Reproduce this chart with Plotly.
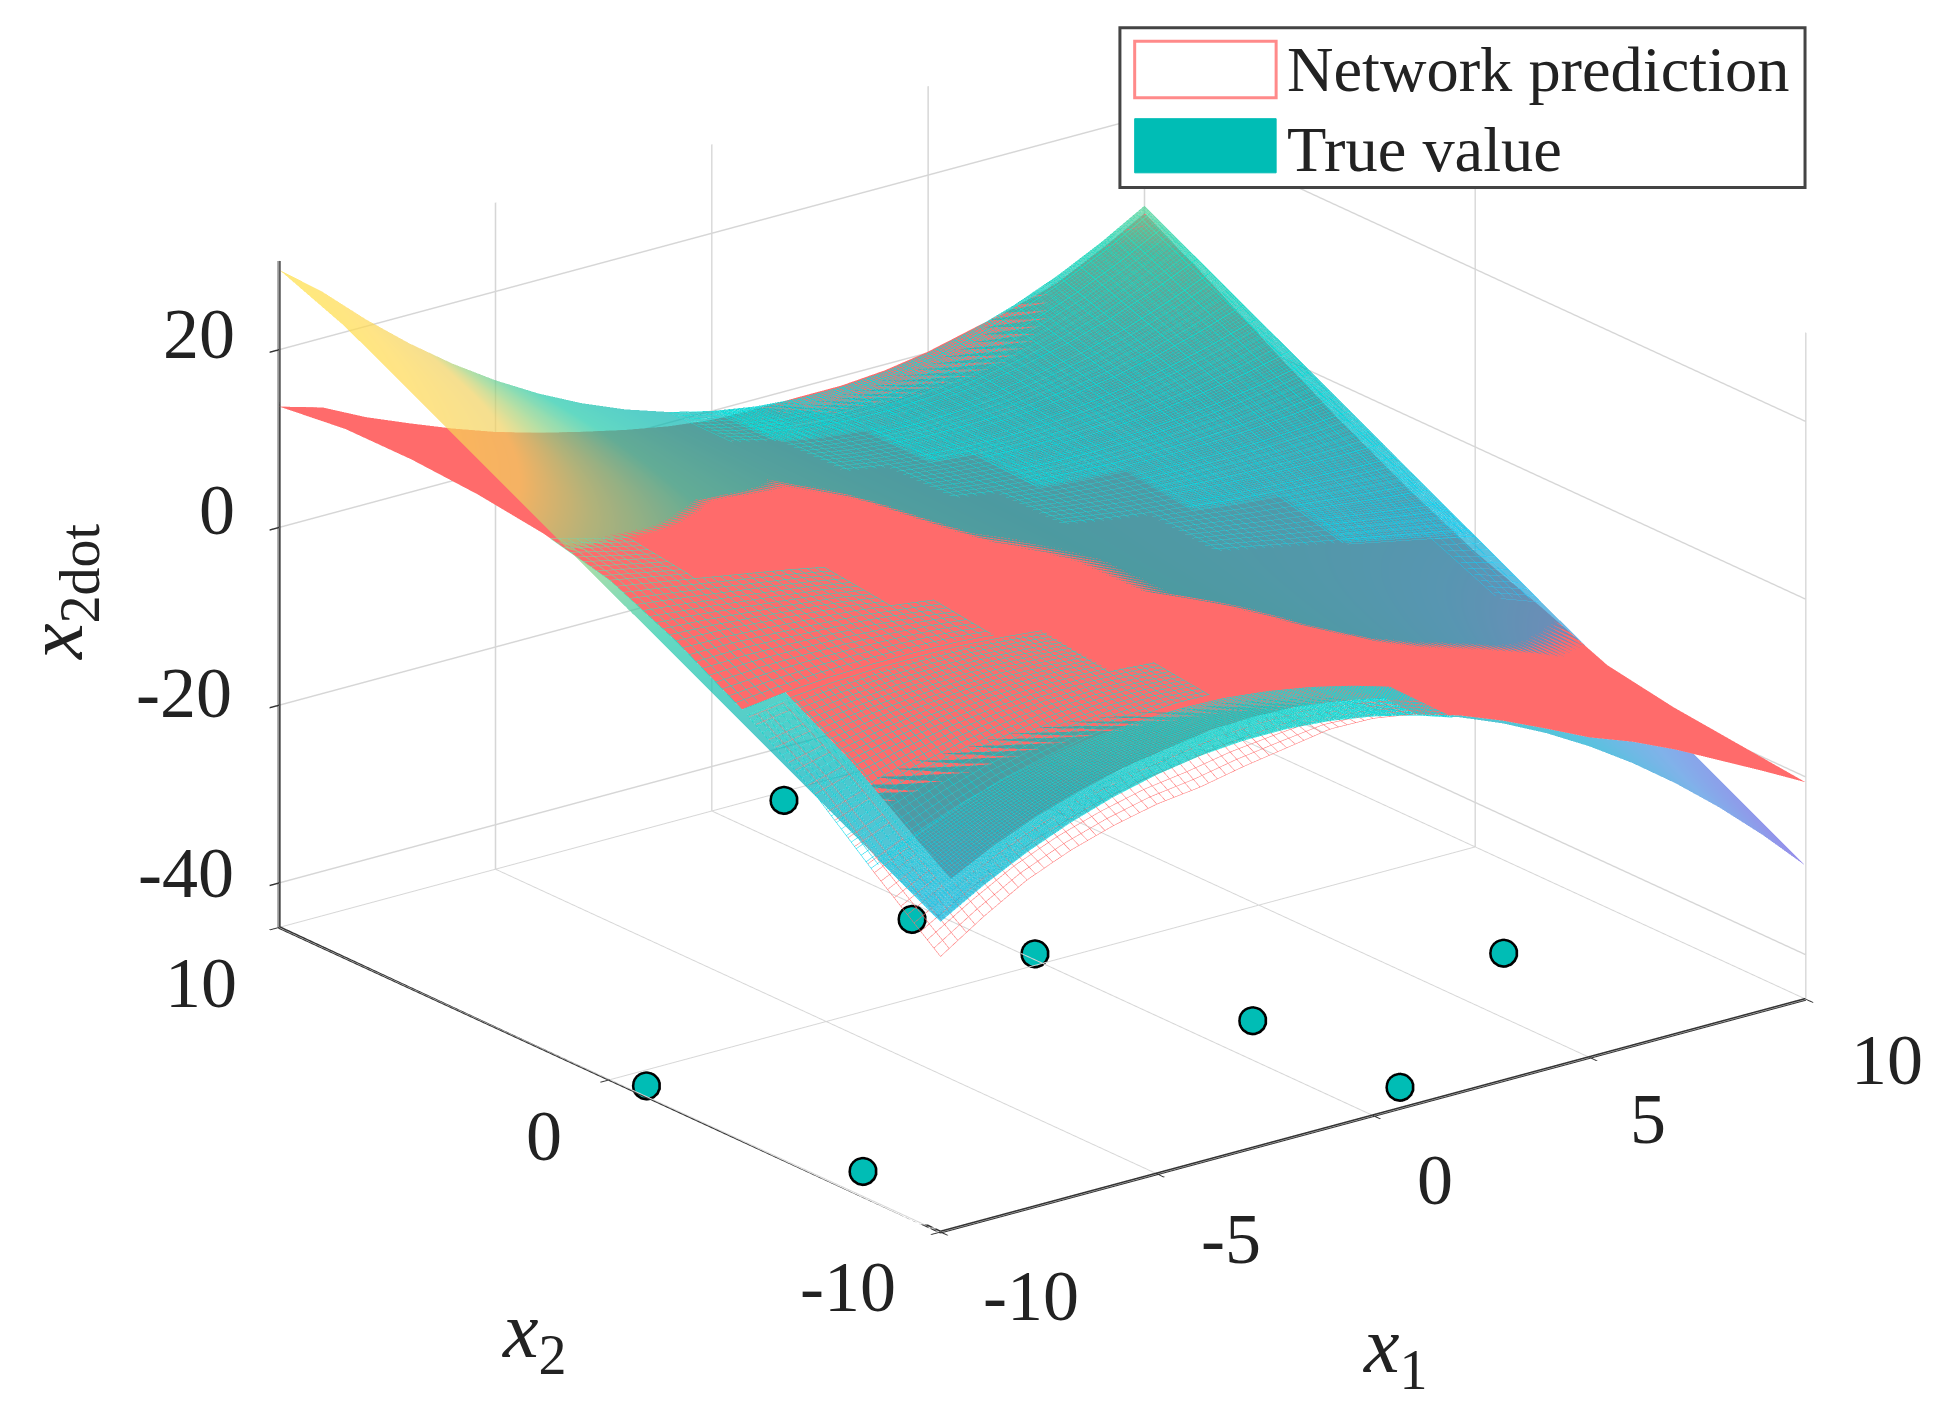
import plotly.graph_objects as go

##### values
x1_vals = [-10, -9, -8, -7, -6, -5, -4, -3, -2, -1, 0, 1, 2, 3, 4, 5, 6, 7, 8, 9, 10]
x2_vals = [-10, -9, -8, -6, -4, -2, 0, 2, 4, 6, 8, 10]

# rows follow x2_vals, columns follow x1_vals
true_z = [
    [-10, -7.2, -4.8, -2.8, -1.2, 0, 0.8, 1.2, 1.2, 0.8, 0, -1.2, -2.8, -4.8, -7.2, -10, -13.2, -16.8, -20.8, -25.2, -30],
    [-8, -5.58, -3.52, -1.82, -0.48, 0.5, 1.12, 1.38, 1.28, 0.82, 0, -1.18, -2.72, -4.62, -6.88, -9.5, -12.48, -15.82, -19.52, -23.58, -28],
    [-6, -3.96, -2.2, -0.84, 0.2, 1, 1.4, 1.56, 1.4, 0.84, 0, -1.16, -2.6, -4.44, -6.6, -9, -11.8, -14.84, -18.2, -21.96, -26],
    [-2, -0.72, 0.3, 1.12, 1.7, 2, 2.1, 1.92, 1.5, 0.88, 0, -1.12, -2.5, -4.08, -5.9, -8, -10.3, -12.88, -15.7, -18.72, -22],
    [2, 2.52, 2.9, 3.08, 3.1, 3, 2.7, 2.28, 1.7, 0.92, 0, -1.08, -2.3, -3.72, -5.3, -7, -8.9, -10.92, -13.1, -15.48, -18],
    [6, 5.76, 5.4, 5.04, 4.6, 4, 3.4, 2.64, 1.8, 0.96, 0, -1.04, -2.2, -3.36, -4.6, -6, -7.4, -8.96, -10.6, -12.24, -14],
    [10, 9, 8, 7, 6, 5, 4, 3, 2, 1, 0, -1, -2, -3, -4, -5, -6, -7, -8, -9, -10],
    [14, 12.24, 10.6, 8.96, 7.4, 6, 4.6, 3.36, 2.2, 1.04, 0, -0.96, -1.8, -2.64, -3.4, -4, -4.6, -5.04, -5.4, -5.76, -6],
    [18, 15.48, 13.1, 10.92, 8.9, 7, 5.3, 3.72, 2.3, 1.08, 0, -0.92, -1.7, -2.28, -2.7, -3, -3.1, -3.08, -2.9, -2.52, -2],
    [22, 18.72, 15.7, 12.88, 10.3, 8, 5.9, 4.08, 2.5, 1.12, 0, -0.88, -1.5, -1.92, -2.1, -2, -1.7, -1.12, -0.3, 0.72, 2],
    [26, 21.96, 18.2, 14.84, 11.8, 9, 6.6, 4.44, 2.6, 1.16, 0, -0.84, -1.4, -1.56, -1.4, -1, -0.2, 0.84, 2.2, 3.96, 6],
    [29, 25.2, 20.8, 16.8, 13.2, 10, 7.2, 4.8, 2.8, 1.2, 0, -0.8, -1.2, -1.2, -0.8, 0, 1.2, 2.8, 4.8, 7.2, 10],
]
# prediction minus true value, same layout
pred_gap = [
    [-4, -3.6, -3.2, -3.2, -3.3, -3.4, -3.6, -3, -2.2, -1, -0.3, 0.1, 0.2, 0.3, 0.5, 1, 2.4, 3.8, 5.3, 7.2, 9.4],
    [-3, -2.7, -2.3, -2, -1.8, -1.5, -1.3, -0.8, -0.5, -0.2, -0.1, 0.2, 0.3, 0.5, 0.7, 1.1, 2.2, 3, 4.5, 5.8, 7.8],
    [-2, -1.7, -1.4, -1, -0.8, -0.5, -0.2, 0.1, 0.2, 0.2, 0.2, 0.3, 0.4, 0.6, 0.9, 1.3, 2, 2.8, 3.7, 4.8, 6.2],
    [0.4, 0.5, 0.6, 0.7, 0.8, 0.9, 0.9, 0.9, 0.9, 0.9, 0.8, 0.8, 0.8, 0.7, 0.5, 0.5, 0.7, 1, 1.6, 2.2, 3],
    [1.5, 1.6, 1.6, 1.6, 1.6, 1.6, 1.5, 1.4, 1.3, 1.2, 1.2, 0.8, 0.3, -0.2, -0.5, -0.5, -0.4, -0.3, -0.2, 0, 0.3],
    [1.8, 1.9, 1.9, 1.9, 1.9, 1.8, 1.7, 1.5, 1.2, 0.9, 0.4, -0.1, -0.4, -0.7, -0.9, -0.9, -0.9, -0.9, -0.9, -0.8, -0.6],
    [1.2, 1.3, 1.4, 1.5, 1.6, 1.6, 1.5, 1.3, 1, 0.7, 0.3, -0.1, -0.4, -0.6, -0.8, -1, -1.2, -1.4, -1.6, -1.7, -1.8],
    [-1, -0.6, -0.2, 0.2, 0.6, 0.9, 1, 1, 0.8, 0.4, -0.2, -0.4, -0.5, -0.7, -0.8, -1, -1.2, -1.4, -1.6, -1.9, -2.2],
    [-4, -3.2, -2.5, -1.6, -0.8, -0.2, 0.2, 0.4, 0.4, 0.1, -0.6, -0.7, -0.7, -0.9, -1, -1.2, -1.4, -1.6, -1.8, -2, -2.2],
    [-7.5, -6.2, -5, -4, -3, -2.1, -1.4, -0.8, -0.3, -0.5, -0.9, -0.9, -0.9, -1, -1, -1.2, -1.4, -1.5, -1.6, -1.7, -1.8],
    [-11.5, -9.8, -8, -6.5, -5, -3.8, -2.8, -1.8, -1, -0.9, -1, -0.9, -0.9, -0.9, -0.9, -0.9, -1, -1.1, -1.2, -1.2, -1.2],
    [-15.4, -13, -11, -9, -7.3, -5.8, -4.4, -3.2, -2.3, -1.6, -1, -0.3, 0.15, 0.15, 0.15, 0.15, 0.15, -0.3, -0.8, -0.8, -0.8],
]
pred_z = [[t + g for t, g in zip(trow, grow)] for trow, grow in zip(true_z, pred_gap)]

# which parts of each surface are drawn (1 = drawn)
solid_red = [
    '000000000001111111111',
    '011111111111111111111',
    '011111111111111111111',
    '011111111111111111111',
    '111111111111111111111',
    '111111111111111111111',
    '111111111111111111111',
    '111111111111111111111',
    '111111111111111111111',
    '111111111111111111111',
    '111111111111111111111',
    '111111111111111111111',
]
bare_mesh = [
    '111111111111100000000',
    '111111111111100000000',
    '110000000000000000000',
    '110000000000000000000',
    '110000000000000000000',
    '000000000000000000000',
    '000000000000000000000',
    '000000000000000000000',
    '000000000000000000000',
    '000000000000000000000',
    '000000000000000000000',
    '000000000000000000000',
]
speckle_red_sparse = [
    '000000000000000000000',
    '000000000000000000000',
    '000000000000000000000',
    '000000000000000000000',
    '111111110000000000000',
    '111111100000000000000',
    '111111000000000000000',
    '111000000000000000000',
    '000000000000000000000',
    '000000000000000000000',
    '000000000000000000000',
    '000000000000000000000',
]
speckle_red_dense = [
    '000000000000000000000',
    '000000000000000000000',
    '111111111111100000000',
    '111111111000000000000',
    '111111110000000000000',
    '000000000000000000000',
    '000000000000000000000',
    '000000000000000000000',
    '000000000000000000000',
    '000000000000000000000',
    '000000000000000000000',
    '000000000000000000000',
]
speckle_true_sparse = [
    '000000000000000000000',
    '000000000000000000000',
    '000000000000000000000',
    '000000000000000000000',
    '000000000000000000000',
    '000000000000000000011',
    '000000000000001111111',
    '000000000000111111111',
    '000000000001111111111',
    '000000000011111111111',
    '000000000111111111111',
    '000000000111111111111',
]
speckle_true_dense = [
    '111111111111100000000',
    '111111111111100000000',
    '111111111111100000000',
    '000000000000000000000',
    '000000000000000000000',
    '000000000000000000000',
    '000000000000000001111',
    '000000000000000111111',
    '000000000000011111111',
    '000000000000111111111',
    '000000000011111111111',
    '000000000011111111111',
]

sample_x1 = [-9.2, -9.65, 1.4, -0.5, 0.2, 1.26, 7.06, 1.3]
sample_x2 = [-6.6, -0.64, 9.66, 3.3, 0.5, -4.7, -4.7, -9.1]
sample_z = [-45, -45, -45, -45, -45, -45, -45, -45]

x1_ticks = [-10, -5, 0, 5, 10]
x1_labels = ['-10', '-5', '0', '5', '10']
x2_ticks = [-10, 0, 10]
x2_labels = ['-10', '0', '10']
z_ticks = [-40, -20, 0, 20]
z_labels = ['-40', '-20', '0', '20']
x1_range = [-10, 10]
x2_range = [-10, 10]
z_range = [-45, 30]

serif = 'Liberation Serif'
W, H = 1938, 1423
SC = 1.23  # picture measured at 1575 wide
RED = '#ff6b6b'
TEAL = '#00bdb5'

true_scale = [[0, '#6a5ce0'], [0.17, '#4a90e0'], [0.33, '#10a8d0'], [0.48, '#00aeb7'],
              [0.62, '#20c8a8'], [0.70, '#90d080'], [0.76, '#f0d060'], [0.88, '#ffd850'], [1, '#ffe040']]
bright_scale = [[0, '#7d6ef0'], [0.17, '#50b0ff'], [0.33, '#10d0f8'], [0.48, '#00e0e0'],
                [0.62, '#10e8c8'], [0.70, '#90e0a0'], [0.76, '#e8e080'], [1, '#fff060']]
flat = dict(ambient=1, diffuse=0, specular=0, fresnel=0, roughness=1)


def masked(values, mask, shift=0):
    return [[v + shift if m == '1' else None for v, m in zip(row, mrow)] for row, mrow in zip(values, mask)]


def mesh(step, color=None):
    line = dict(show=True, start=-10, end=10, size=step, width=1)
    if color:
        line['color'] = color
    else:
        line['usecolormap'] = True
    return dict(x=line, y=line)


common = dict(x=x1_vals, y=x2_vals, showscale=False, hoverinfo='skip', lighting=flat)
red_only = [[0, RED], [1, RED]]
by_height = dict(cmin=-30, cmax=30, colorscale=bright_scale, hidesurface=True)

fig = go.Figure()
fig.add_trace(go.Surface(z=masked(pred_z, solid_red), colorscale=red_only, **common))
fig.add_trace(go.Surface(z=masked(pred_z, bare_mesh), colorscale=red_only, hidesurface=True,
                         contours=mesh(0.2, RED), **common))
fig.add_trace(go.Surface(z=masked(pred_z, speckle_red_sparse), contours=mesh(0.2), **by_height, **common))
fig.add_trace(go.Surface(z=masked(pred_z, speckle_red_dense), contours=mesh(0.15), **by_height, **common))
fig.add_trace(go.Surface(z=masked(true_z, speckle_true_sparse, -0.05), contours=mesh(0.2), **by_height, **common))
fig.add_trace(go.Surface(z=masked(true_z, speckle_true_dense, -0.05), contours=mesh(0.07), **by_height, **common))
fig.add_trace(go.Surface(z=true_z, cmin=-30, cmax=30, colorscale=true_scale, opacity=0.7, **common))
# sample points, black disc behind for the outline
fig.add_trace(go.Scatter3d(x=sample_x1, y=sample_x2, z=sample_z, mode='markers', hoverinfo='skip',
                           marker=dict(size=17, color='black')))
fig.add_trace(go.Scatter3d(x=sample_x1, y=sample_x2, z=sample_z, mode='markers', hoverinfo='skip',
                           marker=dict(size=14, color=TEAL)))
# the three dark axis lines
fig.add_trace(go.Scatter3d(x=[x1_range[0], x1_range[0], x1_range[0], x1_range[1]],
                           y=[x2_range[1], x2_range[1], x2_range[0], x2_range[0]],
                           z=[z_range[1], z_range[0], z_range[0], z_range[0]],
                           mode='lines', hoverinfo='skip', line=dict(color='#333333', width=6)))

axis_style = dict(showbackground=False, gridcolor='#d6d6d6', gridwidth=3, zeroline=False,
                  showline=False, ticks='outside', ticklen=12,
                  tickcolor='#333333', tickwidth=3, showspikes=False, title=dict(text=''),
                  showticklabels=False)

fig.update_layout(
    width=W, height=H, paper_bgcolor='white', showlegend=False,
    margin=dict(l=0, r=0, t=0, b=0),
    scene=dict(
        domain=dict(x=[0.0674, 1], y=[0.126, 1]),
        aspectmode='manual', aspectratio=dict(x=1.751, y=1.751, z=1.145),
        camera=dict(projection=dict(type='orthographic'), up=dict(x=0, y=0, z=1),
                    center=dict(x=0, y=0, z=0),
                    eye=dict(x=-0.5683 * 1.6, y=-0.7436 * 1.6, z=0.352 * 1.6)),
        xaxis=dict(axis_style, range=x1_range, tickvals=x1_ticks),
        yaxis=dict(axis_style, range=x2_range, tickvals=x2_ticks),
        zaxis=dict(axis_style, range=z_range, tickvals=z_ticks),
    ),
)


def rect(x0, y0, x1, y1, line_color, line_width, fill):
    fig.add_shape(type='rect', xref='paper', yref='paper', x0=x0 * SC / W, x1=x1 * SC / W,
                  y0=1 - y1 * SC / H, y1=1 - y0 * SC / H, line=dict(color=line_color, width=line_width),
                  fillcolor=fill)


# legend box, drawn by hand to get the wide swatches
rect(904, 16, 1461, 146, '#444444', 3, 'white')
rect(916, 27, 1031, 73, '#ff8a8a', 3, 'white')
rect(916, 90, 1031, 134, TEAL, 1, TEAL)


def label(text, px, py, size, angle=0, anchor='center'):
    fig.add_annotation(text=text, xref='paper', yref='paper', x=px * SC / W, y=1 - py * SC / H, showarrow=False,
                       xanchor=anchor, yanchor='middle', textangle=angle,
                       font=dict(family=serif, size=size, color='#222222'))


label('Network prediction', 1038, 50, 64.4, anchor='left')
label('True value', 1038, 115, 64.4, anchor='left')
label('<i>x</i><sub>2dot</sub>', 43, 474, 80, angle=-90)
label('<i>x</i><sub>2</sub>', 428, 1080, 80)
label('<i>x</i><sub>1</sub>', 1128, 1092, 80)

for text, px, py in zip(z_labels, [145, 143, 170, 155], [703, 557, 408, 265]):
    label(text, px, py, 72)
for text, px, py in zip(x2_labels, [683, 436, 157], [1040, 917, 793]):
    label(text, px, py, 72)
for text, px, py in zip(x1_labels, [832, 994, 1160, 1333, 1528], [1047, 1001, 953, 903, 855]):
    label(text, px, py, 72)

fig.write_html("out.html")
